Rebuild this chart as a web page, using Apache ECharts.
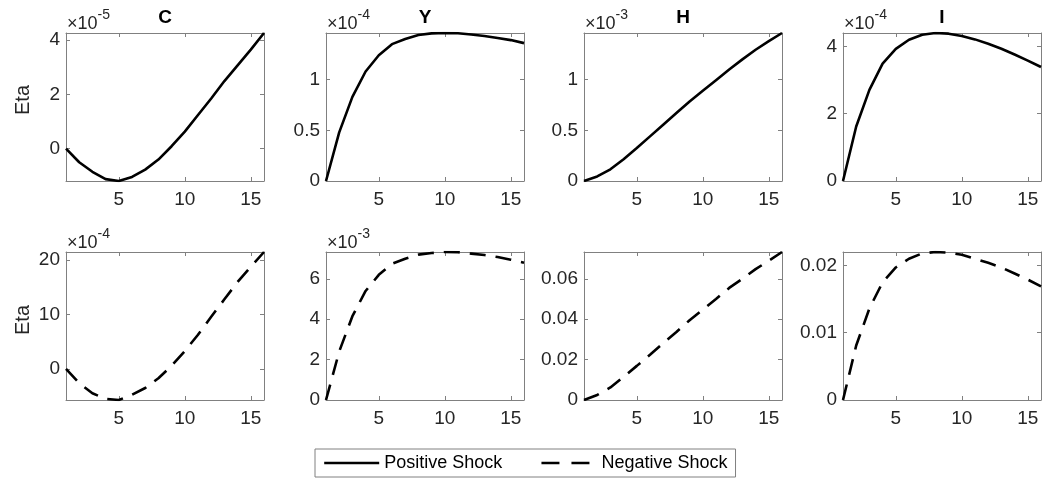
<!DOCTYPE html>
<html><head><meta charset="utf-8">
<script src="https://cdn.jsdelivr.net/npm/echarts@6/dist/echarts.min.js"></script>
<style>html,body{margin:0;padding:0;background:#fff}#c{width:1043px;height:487px}</style>
</head><body><div id="c"></div>
<script>
// horizon (periods)
const steps = [1,2,3,4,5,6,7,8,9,10,11,12,13,14,15,16];
const xTicks = [5,10,15];
const titles = ['C','Y','H','I'];
// Positive shock responses (display units; multiplier in posExp)
const cPos = [0,-0.5,-0.85,-1.12,-1.19,-1.04,-0.77,-0.4,0.09,0.63,1.24,1.85,2.49,3.07,3.65,4.26]; // x1e-5
const yPos = [0,0.48,0.83,1.08,1.24,1.35,1.40,1.44,1.456,1.46,1.458,1.445,1.43,1.41,1.39,1.36]; // x1e-4
const hPos = [0,0.045,0.115,0.215,0.325,0.44,0.555,0.67,0.785,0.89,0.995,1.1,1.2,1.295,1.38,1.46]; // x1e-3
const iPos = [0,1.62,2.71,3.49,3.93,4.2,4.35,4.4,4.38,4.31,4.21,4.08,3.93,3.76,3.58,3.39]; // x1e-4
// Negative shock responses
const cNeg = [0,-2.6,-4.45,-5.5,-5.7,-4.75,-3.5,-1.7,0.6,3.3,6.3,9.6,12.8,16,18.8,21.5]; // x1e-4
const yNeg = [0,2.4,4.15,5.4,6.2,6.75,7.0,7.2,7.28,7.33,7.32,7.25,7.18,7.08,6.95,6.8]; // x1e-3
const hNeg = [0,0.0025,0.0062,0.0115,0.0169,0.0224,0.0282,0.0337,0.0395,0.0448,0.050,0.0555,0.060,0.0648,0.069,0.0733];
const iNeg = [0,0.0081,0.0136,0.0175,0.0197,0.021,0.0218,0.022,0.0219,0.0216,0.021,0.0204,0.0197,0.0188,0.0179,0.0169];
const posExp = ['-5','-4','-3','-4'];
const negExp = ['-4','-3',null,null];
const posYTicks = [[0,2,4],[0,0.5,1],[0,0.5,1],[0,2,4]];
const negYTicks = [[0,10,20],[0,2,4,6],[0,0.02,0.04,0.06],[0,0.01,0.02]];
const seriesNames = ['Positive Shock','Negative Shock'];

const posData = [cPos,yPos,hPos,iPos];
const negData = [cNeg,yNeg,hNeg,iNeg];

const lefts = [66,326,584,843];
const tops = [33,252];
const W = 198, H = 148;
const axisCol = '#808080', textCol = '#262626';
const FONT = 'Liberation Sans, Arial, sans-serif';
const TICKFS = 19;

const grid = [], xAxis = [], yAxis = [], series = [], graphic = [];
let gi = 0;
[posData, negData].forEach((rowData, r) => {
  rowData.forEach((vals, c) => {
    grid.push({left: lefts[c], top: tops[r], width: W, height: H, containLabel: false});
    const ticks = r === 0 ? posYTicks[c] : negYTicks[c];
    xAxis.push({type:'value', gridIndex: gi, min: 1, max: 16, position:'bottom',
      axisLine:{show:true, onZero:false, lineStyle:{color:axisCol, width:1}},
      axisTick:{show:true, inside:true, length:4, customValues: xTicks, lineStyle:{color:axisCol}},
      axisLabel:{show:true, customValues: xTicks, color:textCol, fontSize:TICKFS, fontFamily:FONT, margin:9},
      splitLine:{show:false}});
    xAxis.push({type:'value', gridIndex: gi, min: 1, max: 16, position:'top',
      axisLine:{show:true, onZero:false, lineStyle:{color:axisCol, width:1}},
      axisTick:{show:true, inside:true, length:4, customValues: xTicks, lineStyle:{color:axisCol}},
      axisLabel:{show:false}, splitLine:{show:false}});
    yAxis.push({type:'value', gridIndex: gi, position:'left', scale:true,
      min: v => v.min, max: v => v.max,
      axisLine:{show:true, onZero:false, lineStyle:{color:axisCol, width:1}},
      axisTick:{show:true, inside:true, length:4, customValues: ticks, lineStyle:{color:axisCol}},
      axisLabel:{show:true, customValues: ticks, color:textCol, fontSize:TICKFS, fontFamily:FONT, margin:6,
        formatter: v => String(+v.toFixed(6))},
      splitLine:{show:false}});
    yAxis.push({type:'value', gridIndex: gi, position:'right', scale:true,
      min: v => v.min, max: v => v.max,
      axisLine:{show:true, onZero:false, lineStyle:{color:axisCol, width:1}},
      axisTick:{show:true, inside:true, length:4, customValues: ticks, lineStyle:{color:axisCol}},
      axisLabel:{show:false}, splitLine:{show:false}});
    const pts = steps.map((s, k) => [s, vals[k]]);
    series.push({type:'line', name: seriesNames[r], xAxisIndex: 2*gi, yAxisIndex: 2*gi,
      data: pts, showSymbol:false, symbol:'none', smooth:false, silent:true,
      lineStyle:{color:'#000', width:2.6, type: r === 0 ? 'solid' : [16,10]},
      itemStyle:{color:'#000'}});
    series.push({type:'line', xAxisIndex: 2*gi+1, yAxisIndex: 2*gi+1, data: pts,
      showSymbol:false, symbol:'none', lineStyle:{opacity:0}, silent:true});
    const ex = r === 0 ? posExp[c] : negExp[c];
    if (ex) {
      graphic.push({type:'text', left: lefts[c] + 1, top: tops[r] - 25,
        style:{text:'{a|×10}{b|' + ex + '}', fill:textCol, font:'18px ' + FONT,
          rich:{a:{fontSize:18, fontFamily:FONT, fill:textCol, verticalAlign:'bottom', padding:[7,0,0,0]},
                b:{fontSize:14, fontFamily:FONT, fill:textCol, verticalAlign:'top'}}}});
    }
    if (r === 0) {
      graphic.push({type:'text', x: lefts[c] + W/2, y: 18,
        style:{text: titles[c], fill:'#000', font:'bold 19px ' + FONT, align:'center', verticalAlign:'middle'}});
    }
    gi++;
  });
});
graphic.push({type:'text', x: 23, y: 100, rotation: Math.PI/2,
  style:{text:'Eta', fill:textCol, font:'20px ' + FONT, align:'center', verticalAlign:'middle'}});
graphic.push({type:'text', x: 23, y: 320, rotation: Math.PI/2,
  style:{text:'Eta', fill:textCol, font:'20px ' + FONT, align:'center', verticalAlign:'middle'}});

const hidden = {color:'rgba(0,0,0,0)', borderColor:'rgba(0,0,0,0)', borderWidth:0, opacity:0};
const chart = echarts.init(document.getElementById('c'), null, {renderer:'canvas'});
chart.setOption({
  animation:false,
  backgroundColor:'#fff',
  grid, xAxis, yAxis, series, graphic,
  legend:{
    data: [
      {name: seriesNames[0], itemStyle: hidden, lineStyle:{type:'solid', width:2.4, color:'#000'}},
      {name: seriesNames[1], itemStyle: hidden, lineStyle:{type:[18,12], width:2.4, color:'#000'}}
    ],
    left: 315, top: 449, orient:'horizontal',
    borderColor: axisCol, borderWidth:1, padding:[5,8,5,8], itemGap: 38,
    itemWidth: 55, itemHeight: 14,
    textStyle:{color:'#000', fontSize:18, fontFamily:FONT}
  }
});
</script></body></html>
